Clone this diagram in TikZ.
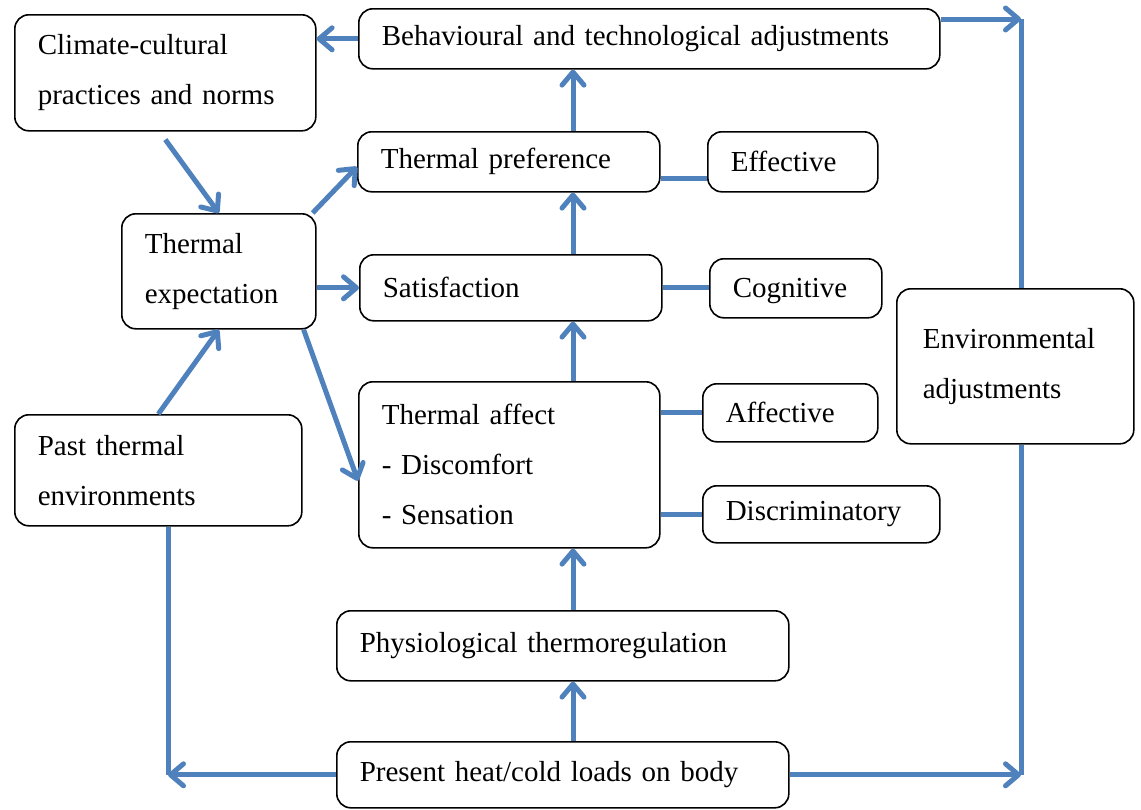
\documentclass[tikz,border=0pt]{standalone}
\usepackage{fontspec}
\setmainfont{Liberation Serif}
\usepackage{tikz}
\usetikzlibrary{positioning}
\usetikzlibrary{arrows.meta}

\definecolor{flowblue}{HTML}{4F81BD}

\tikzset{
  box/.style={draw, rounded corners=14pt, line width=1.6pt, align=left,
    inner xsep=23pt, inner ysep=0pt, anchor=north west,
    font=\fontsize{29pt}{50pt}\selectfont},
  flow/.style={draw=flowblue, line width=5pt,
    -{Straight Barb[length=13pt,width=22pt,line cap=round,line join=round]}},
  link/.style={draw=flowblue, line width=5pt}
}

\begin{document}
\begin{tikzpicture}[x=1pt,y=-1pt]
\useasboundingbox (0,0) rectangle (1141,809);

\node[box, text width=255, minimum height=116] (climate) at (14,14) {Climate-cultural\\practices and norms};
\node[box, text width=535, minimum height=60] (behav) at (358,8) {Behavioural and technological adjustments};
\node[box, text width=256, minimum height=60] (preference) at (357,131) {Thermal preference};
\node[box, text width=124, minimum height=60] (effective) at (707,131) {Effective};
\node[box, text width=148, minimum height=115] (expectation) at (121,213) {Thermal\\expectation};
\node[box, text width=256, minimum height=66] (satisfaction) at (359,254) {Satisfaction};
\node[box, text width=126, minimum height=59, text depth=1pt] (cognitive) at (709,258) {Cognitive};
\node[box, text width=185, minimum height=155, inner xsep=26pt] (env) at (896,288) {Environmental\\adjustments};
\node[box, text width=255, minimum height=166] (affect) at (358,381) {Thermal affect\\- Discomfort\\- Sensation};
\node[box, text width=129, minimum height=58] (affective) at (702,383) {Affective};
\node[box, text width=191, minimum height=57] (discrim) at (702,485) {Discriminatory};
\node[box, text width=241, minimum height=111] (past) at (14,414) {Past thermal\\environments};
\node[box, text width=406, minimum height=70] (physio) at (336,610) {Physiological thermoregulation};
\node[box, text width=406, minimum height=66] (present) at (336,741) {Present heat/cold loads on body};

\coordinate (spine) at (573,0);
\coordinate (cornerNE) at (1021,19);
\coordinate (cornerSE) at (cornerNE |- present.east);
\coordinate (cornerSW) at (168,0 |- present.east);

\path[flow]
  (behav.west) -- (climate.east |- behav.west);
\path[flow] (behav.east |- cornerNE) -- (cornerNE);
\path[link] (cornerNE) -- (cornerNE |- env.north);
\path[link] (env.south -| cornerNE) -- (cornerSE);
\path[flow] (present.east) -- (cornerSE);
\path[flow] (present.west) -- (cornerSW);
\path[link] (past.south -| cornerSW) -- (cornerSW);

\path[flow] ([yshift=-8pt]climate.south) -- (expectation.north);
\path[flow] ([xshift=-4pt]expectation.north east) -- ([yshift=-5pt]preference.west);
\path[flow] (expectation.east |- satisfaction.west) -- (satisfaction.west);
\path[flow] ([xshift=-13pt]expectation.south east) -- ([yshift=-16pt]affect.west);
\path[flow] (past.north) -- (expectation.south);

\path[flow] (present.north -| spine) -- (physio.south -| spine);
\path[flow] (physio.north -| spine) -- (affect.south -| spine);
\path[flow] (affect.north -| spine) -- (satisfaction.south -| spine);
\path[flow] (satisfaction.north -| spine) -- (preference.south -| spine);
\path[flow] (preference.north -| spine) -- (behav.south -| spine);

\path[link] ([yshift=-17pt]preference.east) -- ([yshift=-17pt]effective.west);
\path[link] (satisfaction.east) -- (cognitive.west |- satisfaction.east);
\path[link] (affective.west -| affect.east) -- (affective.west);
\path[link] (discrim.west -| affect.east) -- (discrim.west);
\end{tikzpicture}
\end{document}
